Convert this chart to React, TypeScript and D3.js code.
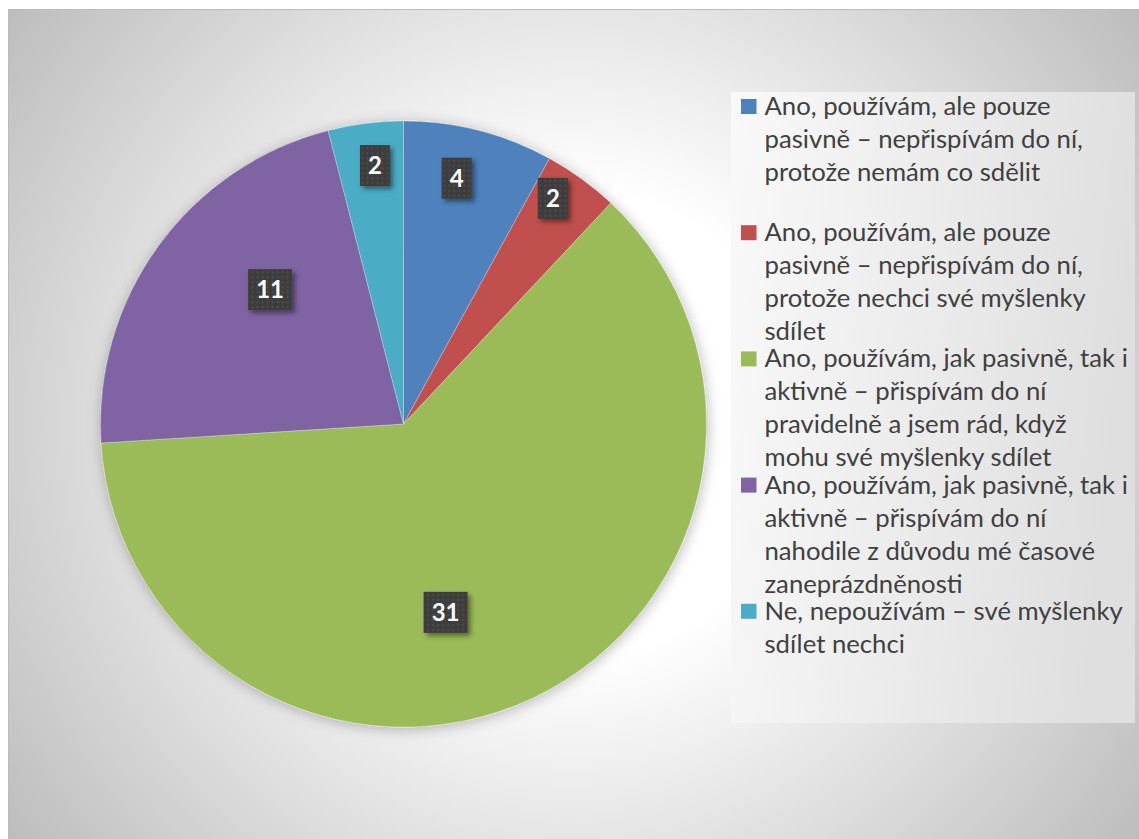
import React from "react";
import * as d3 from "d3";

// Survey answers and counts
const categories: string[] = [
  "Ano, používám, ale pouze\npasivně – nepřispívám do ní,\nprotože nemám co sdělit",
  "Ano, používám, ale pouze\npasivně – nepřispívám do ní,\nprotože nechci své myšlenky\nsdílet",
  "Ano, používám, jak pasivně, tak i\naktivně – přispívám do ní\npravidelně a jsem rád, když\nmohu své myšlenky sdílet",
  "Ano, používám, jak pasivně, tak i\naktivně – přispívám do ní\nnahodile z důvodu mé časové\nzaneprázdněnosti",
  "Ne, nepoužívám – své myšlenky\nsdílet nechci",
];
const values: number[] = [4, 2, 31, 11, 2];
const colors: string[] = ["#4f81bd", "#c0504d", "#9bbb59", "#8064a2", "#4bacc6"];

// Data label placement: [angle in degrees clockwise from top, radius as share of pie radius]
const labelPlacement: [number, number][] = [
  [12.2, 0.83],
  [33.5, 0.893],
  [167.4, 0.637],
  [315.2, 0.625],
  [353.7, 0.858],
];

const W = 1139;
const H = 839;
const CX = 403.5;
const CY = 424;
const R = 303;
const FONT = "Lato, 'Open Sans', sans-serif";

const LEGEND = { x: 731, y: 92, w: 404, h: 631, markerX: 741, textX: 764.5, firstBaseline: 23, lineH: 33 };

export default function App() {
  const pie = d3.pie<number>().sort(null).value((d) => d)(values);
  const arc = d3.arc<d3.PieArcDatum<number>>().innerRadius(0).outerRadius(R);
  const slot = LEGEND.h / categories.length;

  return (
    <svg
      width={W}
      height={H}
      style={{ position: "absolute", left: 0, top: 0, display: "block" }}
      fontFamily={FONT}
    >
      <defs>
        <radialGradient id="bg" gradientUnits="userSpaceOnUse" cx={573} cy={424} r={700}>
          <stop offset="0" stopColor="#ffffff" />
          <stop offset="0.33" stopColor="#ffffff" />
          <stop offset="1" stopColor="#bdbdbd" />
        </radialGradient>
        <linearGradient id="legendBg" x1="0" y1="0" x2="1" y2="0.15">
          <stop offset="0" stopColor="#f9f9f9" />
          <stop offset="1" stopColor="#dfdfdf" />
        </linearGradient>
        <filter id="pieShadow" x="-20%" y="-20%" width="140%" height="140%">
          <feDropShadow dx="1" dy="2" stdDeviation="7" floodColor="#000" floodOpacity="0.28" />
        </filter>
        <filter id="boxShadow" x="-40%" y="-40%" width="180%" height="180%">
          <feDropShadow dx="3" dy="3" stdDeviation="2.5" floodColor="#000" floodOpacity="0.45" />
        </filter>
        <pattern id="dots" width="5" height="5" patternUnits="userSpaceOnUse">
          <rect width="5" height="5" fill="#3d3d3d" />
          <circle cx="2.5" cy="2.5" r="0.9" fill="#555555" />
        </pattern>
      </defs>

      <rect x={0} y={0} width={W} height={H} fill="#ffffff" />
      <rect x={8.5} y={9.5} width={W} height={H} fill="url(#bg)" stroke="#bcbcbc" strokeWidth={1} />

      <g transform={`translate(${CX},${CY})`}>
        <g filter="url(#pieShadow)">
          {pie.map((d, i) => (
            <path key={i} d={arc(d) || ""} fill={colors[i]} stroke="rgba(255,255,255,0.35)" strokeWidth={0.75} />
          ))}
        </g>
        {pie.map((d, i) => {
          const [ang, frac] = labelPlacement[i];
          const a = (ang * Math.PI) / 180;
          const x = Math.sin(a) * R * frac;
          const y = -Math.cos(a) * R * frac;
          const txt = String(d.data);
          const bw = txt.length > 1 ? 44 : 30;
          const bh = 41;
          return (
            <g key={i} transform={`translate(${x},${y})`}>
              <rect x={-bw / 2} y={-bh / 2} width={bw} height={bh} fill="url(#dots)" filter="url(#boxShadow)" />
              <text x={0} y={8.5} textAnchor="middle" fill="#ffffff" fontWeight="bold" fontSize={24}>
                {txt}
              </text>
            </g>
          );
        })}
      </g>

      <rect x={LEGEND.x} y={LEGEND.y} width={LEGEND.w} height={LEGEND.h} fill="url(#legendBg)" />
      {categories.map((c, i) => {
        const base = LEGEND.y + i * slot + LEGEND.firstBaseline;
        return (
          <g key={i}>
            <rect x={LEGEND.markerX} y={base - 16} width={15.5} height={15} fill={colors[i]} />
            {c.split("\n").map((line, j) => (
              <text key={j} x={LEGEND.textX} y={base + j * LEGEND.lineH} fill="#404040" fontSize={25.7}>
                {line}
              </text>
            ))}
          </g>
        );
      })}
    </svg>
  );
}
